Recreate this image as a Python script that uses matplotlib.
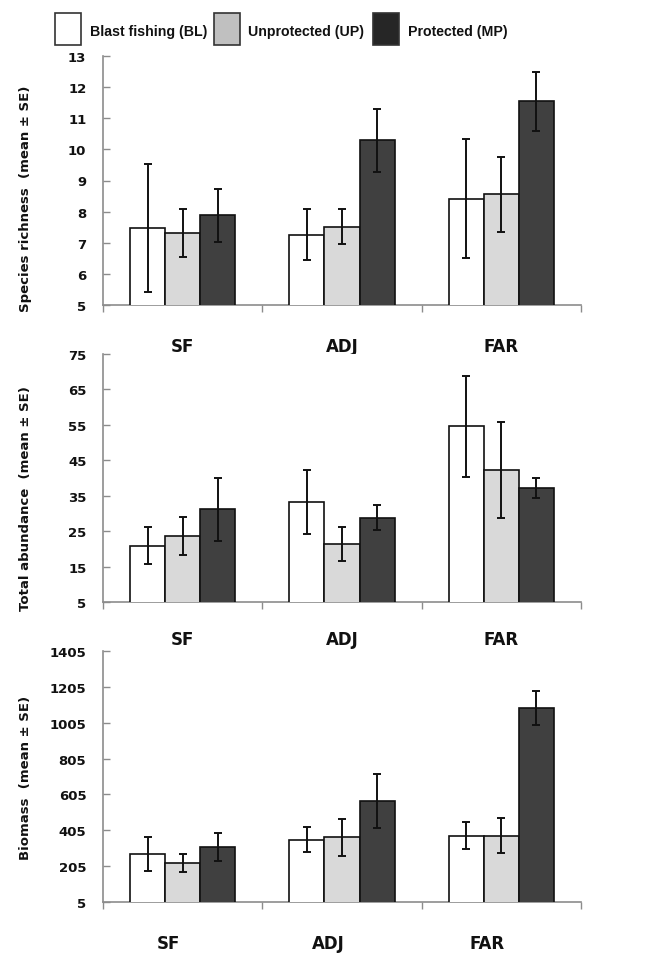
import matplotlib
matplotlib.use("Agg")
import matplotlib.pyplot as plt
import matplotlib.transforms as mtransforms
from matplotlib.patches import Rectangle
import numpy as np

categories = ["SF", "ADJ", "FAR"]
series = ["Blast fishing (BL)", "Unprotected (UP)", "Protected (MP)"]

richness_mean = {"BL": [7.48, 7.26, 8.42], "UP": [7.31, 7.51, 8.56], "MP": [7.89, 10.29, 11.55]}
richness_se = {"BL": [2.05, 0.81, 1.90], "UP": [0.77, 0.56, 1.21], "MP": [0.85, 1.01, 0.95]}

abundance_mean = {"BL": [20.9, 33.2, 54.6], "UP": [23.6, 21.5, 42.3], "MP": [31.2, 28.8, 37.1]}
abundance_se = {"BL": [5.3, 9.1, 14.2], "UP": [5.3, 4.8, 13.5], "MP": [8.9, 3.6, 2.8]}

biomass_mean = {"BL": [273, 353, 375], "UP": [224, 366, 375], "MP": [312, 570, 1089]}
biomass_se = {"BL": [95, 70, 75], "UP": [50, 103, 98], "MP": [80, 150, 95]}

ylabels = ["Species richness  (mean \u00b1 SE)", "Total abundance  (mean \u00b1 SE)", "Biomass  (mean \u00b1 SE)"]
yticks_list = [np.arange(5, 14, 1), np.arange(5, 76, 10), np.arange(5, 1406, 200)]

keys = ["BL", "UP", "MP"]
colors = {"BL": "#ffffff", "UP": "#d9d9d9", "MP": "#404040"}
legend_colors = ["#ffffff", "#c0c0c0", "#262626"]

W, H = 666, 962
fig = plt.figure(figsize=(W / 100, H / 100), dpi=100)

def fx(px):
    return px / W

def fy(py):
    return 1 - py / H

left, right = 103, 581
panels = [(57, 306), (355, 603), (652, 903)]
label_y = [0.43, 0.42, 0.5]
xpads = [23, 20, 23]
data = [(richness_mean, richness_se), (abundance_mean, abundance_se), (biomass_mean, biomass_se)]

bw = 0.22
offsets = [-bw, 0, bw]
x = np.arange(len(categories))

for i, ((top, bot), (means, ses)) in enumerate(zip(panels, data)):
    ax = fig.add_axes([fx(left), fy(bot), fx(right - left), (bot - top) / H])
    for k, off in zip(keys, offsets):
        ax.bar(x + off, means[k], bw, bottom=0, color=colors[k], edgecolor="#111111",
               linewidth=1.2, zorder=2)
        ax.errorbar(x + off, means[k], yerr=ses[k], fmt="none", ecolor="#111111",
                    elinewidth=1.4, capsize=2.6, capthick=1.4, zorder=3)
    yt = yticks_list[i]
    ax.set_ylim(yt[0], yt[-1])
    ax.set_yticks(yt)
    ax.set_xlim(-0.5, 2.5)
    ax.set_xticks(x)
    ax.set_xticklabels(categories, fontsize=12, fontweight="bold", color="#111111")
    ax.set_xticks([-0.5, 0.5, 1.5, 2.5], minor=True)
    ax.tick_params(axis="x", which="major", length=0, pad=xpads[i])
    ax.tick_params(axis="x", which="minor", length=5, direction="out", color="#8c8c8c", width=1)
    ax.tick_params(axis="y", direction="in", length=5, color="#8c8c8c", width=1, pad=12)
    for lab in ax.get_yticklabels():
        lab.set_fontweight("bold")
        lab.set_fontsize(9.5)
        lab.set_color("#111111")
    for s in ["top", "right"]:
        ax.spines[s].set_visible(False)
    for s in ["left", "bottom"]:
        ax.spines[s].set_color("#8c8c8c")
        ax.spines[s].set_linewidth(1.2)
        ax.spines[s].set_zorder(1)
    ax.set_ylabel(ylabels[i], fontsize=9.5, fontweight="bold", color="#111111")
    ax.yaxis.set_label_coords((32 - left) / (right - left), label_y[i])
    if i == 2:
        shift = mtransforms.ScaledTranslation(-14 / 100, 0, fig.dpi_scale_trans)
        for lab in ax.get_xticklabels():
            lab.set_transform(lab.get_transform() + shift)

# legend drawn at top
box_x = [55, 214, 373]
text_x = [90, 248, 408]
for bx, tx, c, name in zip(box_x, text_x, legend_colors, series):
    fig.patches.append(Rectangle((fx(bx), fy(46)), fx(26), 32 / H, transform=fig.transFigure,
                                 facecolor=c, edgecolor="#333333", linewidth=1.2))
    fig.text(fx(tx), fy(32), name, fontsize=10.2, fontweight="bold", va="center", ha="left",
             family=["Liberation Sans", "DejaVu Sans"], color="#111111")

fig.savefig("out.png", dpi=100, facecolor="white")
